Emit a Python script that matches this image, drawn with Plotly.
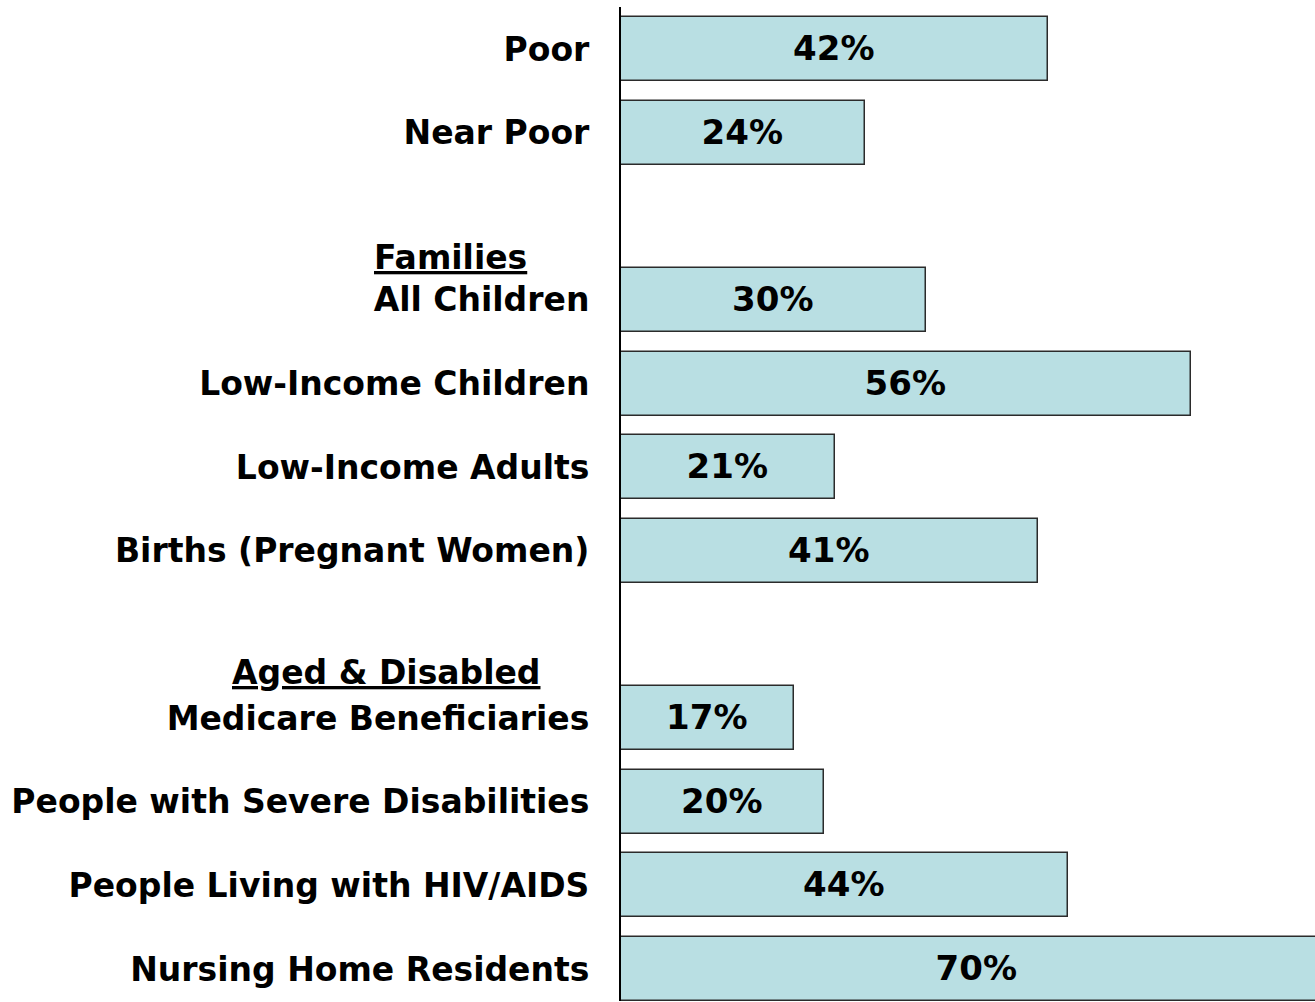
import plotly.graph_objects as go

# Row labels, top to bottom; empty strings leave a spacer row before each group
categories = [
    "Poor",
    "Near Poor",
    "",
    "All Children",
    "Low-Income Children",
    "Low-Income Adults",
    "Births (Pregnant Women)",
    "",
    "Medicare Beneficiaries",
    "People with Severe Disabilities",
    "People Living with HIV/AIDS",
    "Nursing Home Residents",
]
values = [42, 24, None, 30, 56, 21, 41, None, 17, 20, 44, 70]
value_labels = [f"{v}%" if v is not None else "" for v in values]

group_headers = ["Families", "Aged & Disabled"]
group_header_rows = [2.49, 7.45]      # row position of each header line
group_header_left = [-0.3588, -0.5634]  # left edge, in plot fraction

slots = list(range(len(categories)))
bar_slots = [s for s, v in zip(slots, values) if v is not None]
bar_values = [v for v in values if v is not None]
bar_text = [t for t, v in zip(value_labels, values) if v is not None]
tick_text = [c for c, v in zip(categories, values) if v is not None]

FONT = "DejaVu Sans"
BAR_FILL = "#B9DFE3"
EDGE = "#2b2b2b"

fig = go.Figure()
fig.add_trace(go.Bar(
    orientation="h",
    y=bar_slots,
    x=bar_values,
    width=0.765,
    marker=dict(color=BAR_FILL, line=dict(color=EDGE, width=1.5)),
    text=bar_text,
    textposition="inside",
    insidetextanchor="middle",
    textangle=0,
    textfont=dict(family=FONT, size=34, color="black", weight="bold"),
    cliponaxis=True,
    hoverinfo="skip",
))

for txt, row, left in zip(group_headers, group_header_rows, group_header_left):
    fig.add_annotation(
        xref="paper", yref="y", x=left, y=row,
        xanchor="left", yanchor="middle",
        text=f"<span style='text-decoration:underline'>{txt}</span>",
        showarrow=False,
        font=dict(family=FONT, size=33, color="black", weight="bold"),
    )

fig.update_layout(
    width=1315, height=1002,
    margin=dict(l=621, r=0, t=7, b=1),
    paper_bgcolor="white", plot_bgcolor="white",
    showlegend=False,
    bargap=0,
)
fig.update_xaxes(
    range=[0, 68.24], visible=False, showgrid=False, zeroline=False,
)
fig.update_yaxes(
    range=[11.383, -0.502],
    tickmode="array", tickvals=bar_slots, ticktext=tick_text,
    ticks="", ticklabelstandoff=23,
    tickfont=dict(family=FONT, size=33, color="black", weight="bold"),
    showline=True, linecolor="black", linewidth=2,
    showgrid=False, zeroline=False,
)

fig.write_html("out.html")
